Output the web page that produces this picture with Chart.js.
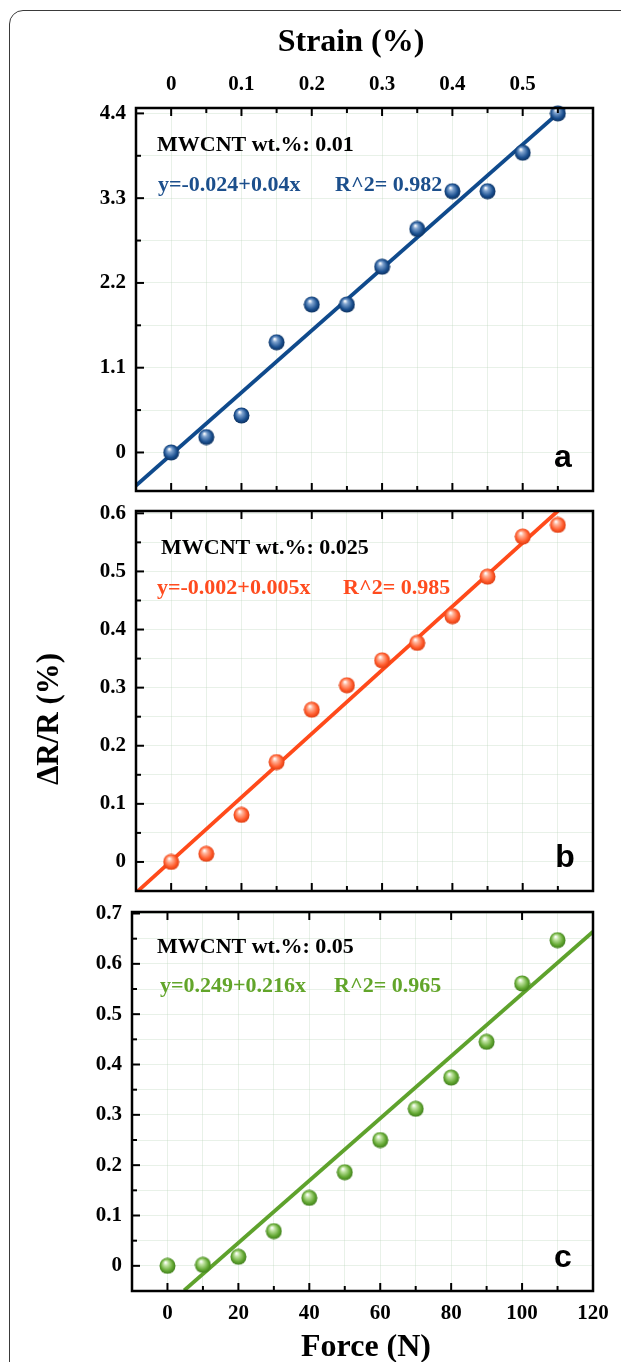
<!DOCTYPE html>
<html>
<head>
<meta charset="utf-8">
<script src="https://cdn.jsdelivr.net/npm/chart.js@4.4.1/dist/chart.umd.min.js"></script>
<style>
  html, body { margin: 0; padding: 0; background: #fff; width: 621px; height: 1362px; overflow: hidden; }
  #frame { position: absolute; left: 9px; top: 10px; width: 800px; height: 1600px; border: 1.5px solid #3a3a3a; border-radius: 14px; }
  canvas { position: absolute; left: 0; }
</style>
</head>
<body>
<div id="frame"></div>
<canvas id="chartA" width="621" height="500" style="top:0px"></canvas>
<canvas id="chartB" width="621" height="400" style="top:500px"></canvas>
<canvas id="chartC" width="621" height="462" style="top:900px"></canvas>
<script>
// force (N) applied for every measurement
const force = [0, 10, 20, 30, 40, 50, 60, 70, 80, 90, 100, 110];

// ΔR/R (%) for the three MWCNT loadings
const resistA = [0, 0.2, 0.48, 1.43, 1.92, 1.92, 2.41, 2.9, 3.39, 3.39, 3.89, 4.4];
const resistB = [0, 0.014, 0.081, 0.172, 0.262, 0.304, 0.347, 0.377, 0.423, 0.491, 0.56, 0.58];
const resistC = [0, 0.002, 0.018, 0.069, 0.135, 0.186, 0.25, 0.312, 0.374, 0.445, 0.561, 0.647];

// fitted lines, end points
const fitForceA = [-10, 113];
const fitA = [-0.43, 4.52];
const fitForceB = [-10, 112];
const fitB = [-0.053, 0.615];
const fitForceC = [4.7, 120];
const fitC = [-0.049, 0.664];

// axis ticks
const strainTicks = [0, 0.1, 0.2, 0.3, 0.4, 0.5];
const forceTicks = [0, 20, 40, 60, 80, 100, 120];
const forceMinor = [10, 30, 50, 70, 90, 110];
const yTicksA = [0, 1.1, 2.2, 3.3, 4.4];
const yMinorA = [0.55, 1.65, 2.75, 3.85];
const yTicksB = [0, 0.1, 0.2, 0.3, 0.4, 0.5, 0.6];
const yMinorB = [0.05, 0.15, 0.25, 0.35, 0.45, 0.55];
const yTicksC = [0, 0.1, 0.2, 0.3, 0.4, 0.5, 0.6, 0.7];
const yMinorC = [0.05, 0.15, 0.25, 0.35, 0.45, 0.55, 0.65];

const serif = "'Liberation Serif', 'Times New Roman', serif";
const sans = "'Liberation Sans', Arial, sans-serif";
const gridColor = 'rgba(190, 215, 190, 0.35)';

function sphere(light, base, dark) {
    const c = document.createElement('canvas');
    c.width = 17;
    c.height = 17;
    const g = c.getContext('2d');
    const grad = g.createRadialGradient(6.5, 5, 0.4, 8.5, 8.5, 8.5);
    grad.addColorStop(0, '#ffffff');
    grad.addColorStop(0.25, light);
    grad.addColorStop(0.7, base);
    grad.addColorStop(1, dark);
    g.fillStyle = grad;
    g.beginPath();
    g.arc(8.5, 8.5, 8, 0, Math.PI * 2);
    g.fill();
    return c;
}

const has = (arr, v) => arr.some(t => Math.abs(t - v) < 1e-9);

// stop chart.js from reserving room for half tick labels
function noPad(ax) {
    ax.paddingTop = 0;
    ax.paddingBottom = 0;
    ax.paddingLeft = 0;
    ax.paddingRight = 0;
}

// inward ticks, box, annotations
const panelDeco = {
    id: 'panelDeco',
    afterDraw(chart, args, o) {
        const ctx = chart.ctx;
        const a = chart.chartArea;
        const x = chart.scales.x;
        const y = chart.scales.y;
        ctx.save();
        ctx.strokeStyle = '#000';
        ctx.lineWidth = 2;
        const tick = (px, py, dx, dy) => {
            ctx.beginPath();
            ctx.moveTo(px, py);
            ctx.lineTo(px + dx, py + dy);
            ctx.stroke();
        };
        o.yMajor.forEach(v => tick(a.left, y.getPixelForValue(v), 8, 0));
        o.yMinor.forEach(v => tick(a.left, y.getPixelForValue(v), 5, 0));
        o.topMajor.forEach(v => tick(x.getPixelForValue(v), a.top, 0, 8));
        o.topMinor.forEach(v => tick(x.getPixelForValue(v), a.top, 0, 5));
        forceTicks.filter(v => v < 120).forEach(v => tick(x.getPixelForValue(v), a.bottom, 0, -8));
        forceMinor.forEach(v => tick(x.getPixelForValue(v), a.bottom, 0, -5));

        ctx.lineWidth = 2.5;
        ctx.strokeRect(a.left, a.top, a.right - a.left, a.bottom - a.top);

        o.texts.forEach(t => {
            ctx.save();
            ctx.font = t.font;
            ctx.fillStyle = t.color || '#000';
            ctx.textAlign = t.align || 'left';
            ctx.textBaseline = t.baseline || 'middle';
            ctx.translate(t.x, t.y);
            if (t.rotate) ctx.rotate(t.rotate);
            ctx.fillText(t.text, 0, 0);
            ctx.restore();
        });
        ctx.restore();
    }
};

function makePanel(id, p) {
    const scales = {
        x: {
            type: 'linear',
            position: 'bottom',
            min: -10,
            max: 120,
            afterBuildTicks: ax => { ax.ticks = [-10].concat(force, [120]).map(v => ({ value: v })); },
            afterFit: ax => { ax.height = p.xHeight; noPad(ax); },
            grid: { color: gridColor, drawTicks: false },
            border: { display: false },
            ticks: {
                display: p.xLabels,
                autoSkip: false,
                maxRotation: 0,
                padding: 10,
                color: '#000',
                font: { family: serif, size: 21, weight: 'bold' },
                callback: v => has(forceTicks, v) ? String(v) : ''
            }
        },
        y: {
            type: 'linear',
            min: p.yMin,
            max: p.yMax,
            afterBuildTicks: ax => {
                ax.ticks = p.yTicks.concat(p.yMinor).sort((m, n) => m - n).map(v => ({ value: v }));
            },
            afterFit: ax => { ax.width = p.left; noPad(ax); },
            grid: { color: gridColor, drawTicks: false },
            border: { display: false },
            ticks: {
                autoSkip: false,
                padding: 10,
                color: '#000',
                font: { family: serif, size: 21, weight: 'bold' },
                callback: v => has(p.yTicks, v) ? String(Math.round(v * 100) / 100) : ''
            }
        }
    };
    if (p.strain) {
        scales.x2 = {
            type: 'linear',
            position: 'top',
            min: -0.05,
            max: 0.6,
            afterBuildTicks: ax => { ax.ticks = strainTicks.map(v => ({ value: v })); },
            afterFit: ax => { ax.height = 108; noPad(ax); },
            grid: { display: false, drawTicks: false },
            border: { display: false },
            ticks: {
                autoSkip: false,
                maxRotation: 0,
                padding: 11,
                color: '#000',
                font: { family: serif, size: 21, weight: 'bold' },
                callback: v => String(v)
            }
        };
    }

    return new Chart(document.getElementById(id), {
        type: 'scatter',
        data: {
            datasets: [{
                data: force.map((f, i) => ({ x: f, y: p.values[i] })),
                pointStyle: p.sphere,
                pointRadius: 8,
                clip: false,
                order: 0
            }, {
                type: 'line',
                data: p.fitX.map((f, i) => ({ x: f, y: p.fitY[i] })),
                borderColor: p.color,
                borderWidth: 3.8,
                pointRadius: 0,
                fill: false,
                tension: 0,
                clip: 0,
                order: 1
            }]
        },
        options: {
            responsive: false,
            animation: false,
            events: [],
            layout: { padding: { left: 0, right: 28, top: p.padTop, bottom: p.padBottom } },
            plugins: {
                legend: { display: false },
                tooltip: { enabled: false },
                panelDeco: {
                    yMajor: p.yTicks,
                    yMinor: p.yMinor,
                    topMajor: forceTicks.filter(v => v < 120),
                    topMinor: p.strain ? forceMinor : [],
                    texts: p.texts
                }
            },
            scales: scales
        },
        plugins: [panelDeco]
    });
}

const bold22 = 'bold 22px ' + serif;
const letterFont = 'bold 32px ' + sans;

makePanel('chartA', {
    values: resistA, fitX: fitForceA, fitY: fitA,
    color: '#0f4a8c', sphere: sphere('#7fa3cf', '#1a4f8f', '#0a2c58'),
    yMin: -0.5, yMax: 4.47, yTicks: yTicksA, yMinor: yMinorA,
    left: 136, padTop: 0, padBottom: 9, xHeight: 0, xLabels: false, strain: true,
    texts: [
        { text: 'Strain (%)', x: 351, y: 43, font: 'bold 32px ' + serif, align: 'center' },
        { text: 'MWCNT wt.%: 0.01', x: 157, y: 145, font: bold22 },
        { text: 'y=-0.024+0.04x', x: 158, y: 185, font: bold22, color: '#1c4f8c' },
        { text: 'R^2= 0.982', x: 335, y: 185, font: bold22, color: '#1c4f8c' },
        { text: 'a', x: 563, y: 467, font: letterFont, align: 'center', baseline: 'alphabetic' }
    ]
});

makePanel('chartB', {
    values: resistB, fitX: fitForceB, fitY: fitB,
    color: '#ff4a1a', sphere: sphere('#ffb49a', '#ff5a2a', '#d8380e'),
    yMin: -0.05, yMax: 0.604, yTicks: yTicksB, yMinor: yMinorB,
    left: 136, padTop: 11, padBottom: 7, xHeight: 0, xLabels: false, strain: false,
    texts: [
        { text: 'ΔR/R (%)', x: 50, y: 219, font: 'bold 31px ' + serif, align: 'center', rotate: -Math.PI / 2 },
        { text: 'MWCNT wt.%: 0.025', x: 161, y: 48, font: bold22 },
        { text: 'y=-0.002+0.005x', x: 157, y: 88, font: bold22, color: '#ff4b1e' },
        { text: 'R^2= 0.985', x: 343, y: 88, font: bold22, color: '#ff4b1e' },
        { text: 'b', x: 565, y: 367, font: letterFont, align: 'center', baseline: 'alphabetic' }
    ]
});

makePanel('chartC', {
    values: resistC, fitX: fitForceC, fitY: fitC,
    color: '#5ea22c', sphere: sphere('#bfe3a0', '#63a832', '#3a7818'),
    yMin: -0.05, yMax: 0.703, yTicks: yTicksC, yMinor: yMinorC,
    left: 132, padTop: 12, padBottom: 0, xHeight: 71, xLabels: true, strain: false,
    texts: [
        { text: 'MWCNT wt.%: 0.05', x: 157, y: 47, font: bold22 },
        { text: 'y=0.249+0.216x', x: 160, y: 86, font: bold22, color: '#62a52a' },
        { text: 'R^2= 0.965', x: 334, y: 86, font: bold22, color: '#62a52a' },
        { text: 'c', x: 563, y: 367, font: letterFont, align: 'center', baseline: 'alphabetic' },
        { text: 'Force (N)', x: 366, y: 448, font: 'bold 32px ' + serif, align: 'center' }
    ]
});
</script>
</body>
</html>
